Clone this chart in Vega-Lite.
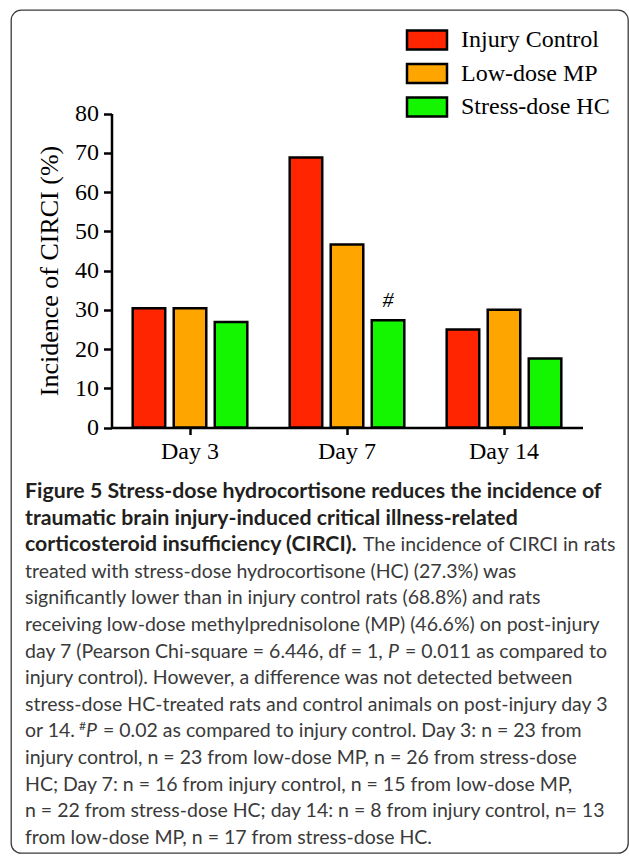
{
  "$schema": "https://vega.github.io/schema/vega-lite/v6.json",
  "width": 617,
  "height": 843,
  "autosize": {"type": "none"},
  "padding": {"left": 11, "top": 10, "right": 1, "bottom": 4},
  "background": "white",
  "config": {
    "view": {"stroke": "#3a3a3a", "strokeWidth": 1.3, "cornerRadius": 10},
    "axis": {"grid": false}
  },
  "resolve": {"scale": {"x": "independent", "y": "independent"}},
  "layer": [
    {
      "layer": [
        {
          "data": {
            "values": [
              {"day": "Day 3", "group": "Injury Control", "value": 30.4},
              {"day": "Day 3", "group": "Low-dose MP", "value": 30.4},
              {"day": "Day 3", "group": "Stress-dose HC", "value": 26.9},
              {"day": "Day 7", "group": "Injury Control", "value": 68.8},
              {"day": "Day 7", "group": "Low-dose MP", "value": 46.6},
              {"day": "Day 7", "group": "Stress-dose HC", "value": 27.3},
              {"day": "Day 14", "group": "Injury Control", "value": 25.0},
              {"day": "Day 14", "group": "Low-dose MP", "value": 30.0},
              {"day": "Day 14", "group": "Stress-dose HC", "value": 17.6}
            ]
          },
          "mark": {"type": "bar", "stroke": "black", "strokeWidth": 2.5},
          "encoding": {
            "x": {
              "field": "day", "type": "nominal",
              "scale": {"domain": ["Day 3", "Day 7", "Day 14"], "range": [100.5, 571.5], "paddingInner": 0.27, "paddingOuter": 0.135},
              "axis": {
                "orient": "bottom", "offset": -425.5, "title": null, "labelAngle": 0,
                "labelFont": "Liberation Serif", "labelFontSize": 24, "labelColor": "black",
                "labelPadding": 5, "tickSize": 7, "tickWidth": 2.5, "tickColor": "black",
                "domainColor": "black", "domainWidth": 2.5
              }
            },
            "xOffset": {
              "field": "group", "type": "nominal",
              "scale": {"domain": ["Injury Control", "Low-dose MP", "Stress-dose HC"], "paddingInner": 0.207, "paddingOuter": 0}
            },
            "y": {
              "field": "value", "type": "quantitative",
              "scale": {"domain": [0, 80], "range": [417.5, 103.5], "nice": false},
              "axis": {
                "orient": "left", "offset": -100.5, "values": [0, 10, 20, 30, 40, 50, 60, 70, 80],
                "title": "Incidence of CIRCI (%)", "titleFont": "Liberation Serif", "titleFontSize": 26,
                "titleFontWeight": "normal", "titleColor": "black", "titlePadding": 12,
                "labelFont": "Liberation Serif", "labelFontSize": 24, "labelColor": "black",
                "labelPadding": 5, "tickSize": 8, "tickWidth": 2.5, "tickColor": "black",
                "domainColor": "black", "domainWidth": 2.5
              }
            },
            "color": {
              "field": "group", "type": "nominal",
              "scale": {"domain": ["Injury Control", "Low-dose MP", "Stress-dose HC"], "range": ["#ff2500", "#ffa500", "#14f500"]},
              "legend": {
                "orient": "none", "legendX": 404, "legendY": 18, "title": null,
                "symbolType": "M-2,-0.95L2,-0.95L2,0.95L-2,0.95Z", "symbolSize": 400,
                "symbolStrokeColor": "black", "symbolStrokeWidth": 2.5, "symbolOpacity": 1,
                "labelFont": "Liberation Serif", "labelFontSize": 24, "labelColor": "black",
                "labelOffset": 22, "rowPadding": 3.5, "padding": 0
              }
            }
          }
        },
        {
          "data": {"values": [{"day": "Day 7", "group": "Stress-dose HC", "value": 27.3, "note": "#"}]},
          "mark": {"type": "text", "font": "Liberation Serif", "fontStyle": "italic", "fontSize": 22, "color": "black", "baseline": "alphabetic", "dy": -13},
          "encoding": {
            "x": {"field": "day", "type": "nominal", "scale": {"domain": ["Day 3", "Day 7", "Day 14"]}},
            "xOffset": {"field": "group", "type": "nominal", "scale": {"domain": ["Injury Control", "Low-dose MP", "Stress-dose HC"]}},
            "y": {"field": "value", "type": "quantitative"},
            "text": {"field": "note"}
          }
        }
      ]
    },
    {
      "data": {
        "values": [
          {"line": 1, "part": 1, "text": "Figure 5 Stress-dose hydrocortisone reduces the incidence of"},
          {"line": 2, "part": 1, "text": "traumatic brain injury-induced critical illness-related"},
          {"line": 3, "part": 1, "text": "corticosteroid insufficiency (CIRCI)."},
          {"line": 3, "part": 2, "text": "The incidence of CIRCI in rats"},
          {"line": 4, "part": 1, "text": "treated with stress-dose hydrocortisone (HC) (27.3%) was"},
          {"line": 5, "part": 1, "text": "significantly lower than in injury control rats (68.8%) and rats"},
          {"line": 6, "part": 1, "text": "receiving low-dose methylprednisolone (MP) (46.6%) on post-injury"},
          {"line": 7, "part": 1, "text": "day 7 (Pearson Chi-square = 6.446, df = 1,"},
          {"line": 7, "part": 2, "text": "P"},
          {"line": 7, "part": 3, "text": "= 0.011 as compared to"},
          {"line": 8, "part": 1, "text": "injury control). However, a difference was not detected between"},
          {"line": 9, "part": 1, "text": "stress-dose HC-treated rats and control animals on post-injury day 3"},
          {"line": 10, "part": 1, "text": "or 14."},
          {"line": 10, "part": 2, "text": "#"},
          {"line": 10, "part": 3, "text": "P"},
          {"line": 10, "part": 4, "text": "= 0.02 as compared to injury control. Day 3: n = 23 from"},
          {"line": 11, "part": 1, "text": "injury control, n = 23 from low-dose MP, n = 26 from stress-dose"},
          {"line": 12, "part": 1, "text": "HC; Day 7: n = 16 from injury control, n = 15 from low-dose MP,"},
          {"line": 13, "part": 1, "text": "n = 22 from stress-dose HC; day 14: n = 8 from injury control, n= 13"},
          {"line": 14, "part": 1, "text": "from low-dose MP, n = 17 from stress-dose HC."}
        ]
      },
      "encoding": {
        "x": {"datum": 0, "type": "quantitative", "scale": {"domain": [0, 1], "range": [14, 614]}, "axis": null},
        "y": {"field": "line", "type": "quantitative", "scale": {"domain": [1, 14], "range": [488, 833.8]}, "axis": null},
        "text": {"field": "text"}
      },
      "layer": [
        {
          "transform": [{"filter": "datum.line <= 2 || (datum.line == 3 && datum.part == 1)"}],
          "mark": {"type": "text", "font": "Lato", "fontWeight": "bold", "fontSize": 21.3, "color": "#231f20", "align": "left", "baseline": "alphabetic"}
        },
        {
          "transform": [{"filter": "datum.line >= 4 && datum.part == 1"}],
          "mark": {"type": "text", "font": "Lato", "fontSize": 19.5, "color": "#3a3a3a", "align": "left", "baseline": "alphabetic"}
        },
        {
          "transform": [{"filter": "datum.line == 3 && datum.part == 2"}],
          "mark": {"type": "text", "font": "Lato", "fontSize": 19.5, "color": "#3a3a3a", "align": "left", "baseline": "alphabetic", "dx": 338}
        },
        {
          "transform": [{"filter": "datum.line == 7 && datum.part == 2"}],
          "mark": {"type": "text", "font": "Lato", "fontStyle": "italic", "fontSize": 19.5, "color": "#3a3a3a", "align": "left", "baseline": "alphabetic", "dx": 363}
        },
        {
          "transform": [{"filter": "datum.line == 7 && datum.part == 3"}],
          "mark": {"type": "text", "font": "Lato", "fontSize": 19.5, "color": "#3a3a3a", "align": "left", "baseline": "alphabetic", "dx": 380}
        },
        {
          "transform": [{"filter": "datum.line == 10 && datum.part == 2"}],
          "mark": {"type": "text", "font": "Lato", "fontSize": 12, "color": "#3a3a3a", "align": "left", "baseline": "alphabetic", "dx": 54, "dy": -7}
        },
        {
          "transform": [{"filter": "datum.line == 10 && datum.part == 3"}],
          "mark": {"type": "text", "font": "Lato", "fontStyle": "italic", "fontSize": 19.5, "color": "#3a3a3a", "align": "left", "baseline": "alphabetic", "dx": 61}
        },
        {
          "transform": [{"filter": "datum.line == 10 && datum.part == 4"}],
          "mark": {"type": "text", "font": "Lato", "fontSize": 19.5, "color": "#3a3a3a", "align": "left", "baseline": "alphabetic", "dx": 78}
        }
      ]
    }
  ]
}
